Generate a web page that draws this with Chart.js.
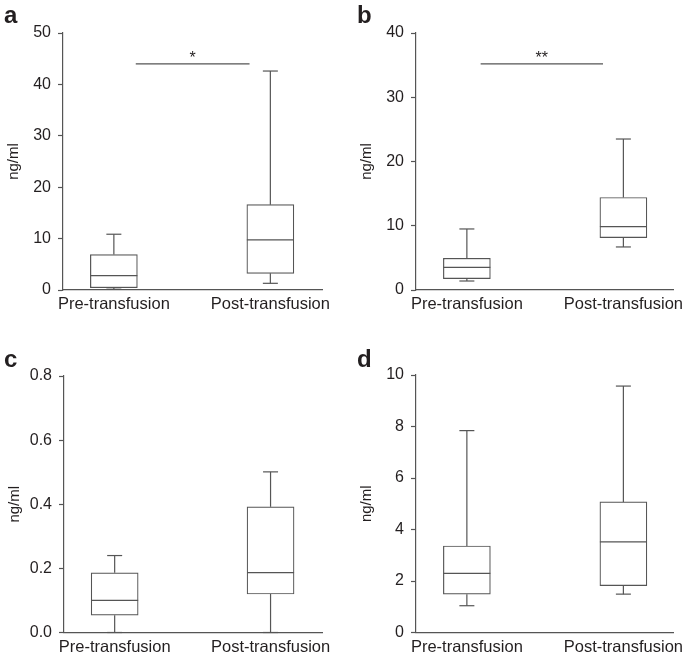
<!DOCTYPE html>
<html>
<head>
<meta charset="utf-8">
<script src="https://cdn.jsdelivr.net/npm/chart.js@4.4.1/dist/chart.umd.min.js"></script>
<style>
  body { margin: 0; background: #fff; }
  #wrap { position: relative; width: 685px; height: 658px; }
  canvas { position: absolute; }
  .tag { position: absolute; font: bold 24px 'Liberation Sans', Arial, sans-serif; color: #231f20; line-height: 1; }
</style>
</head>
<body>
<div id="wrap">
  <canvas id="chartA" width="343" height="330" style="left:0;top:0"></canvas>
  <canvas id="chartB" width="342" height="330" style="left:343px;top:0"></canvas>
  <canvas id="chartC" width="343" height="328" style="left:0;top:330px"></canvas>
  <canvas id="chartD" width="342" height="328" style="left:343px;top:330px"></canvas>
  <div class="tag" style="left:4px;top:3px">a</div>
  <div class="tag" style="left:357px;top:3px">b</div>
  <div class="tag" style="left:4px;top:347px">c</div>
  <div class="tag" style="left:357px;top:347px">d</div>
</div>
<script>
const groups = ['Pre-transfusion', 'Post-transfusion'];
const groupPos = [1, 2];

// panel a
const aMin = [0.15, 1.3];
const aQ1 = [0.45, 3.25];
const aMed = [2.8, 9.75];
const aQ3 = [6.9, 16.6];
const aMax = [10.85, 42.6];
const aTicks = [0, 10, 20, 30, 40, 50];
const aSig = [1.14, 1.867, 44];

// panel b
const bMin = [1.4, 6.7];
const bQ1 = [1.77, 8.16];
const bMed = [3.53, 9.87];
const bQ3 = [4.94, 14.4];
const bMax = [9.5, 23.5];
const bTicks = [0, 10, 20, 30, 40];
const bSig = [1.088, 1.87, 35.2];

// panel c
const cMin = [0, 0];
const cQ1 = [0.054, 0.12];
const cMed = [0.1, 0.187];
const cQ3 = [0.186, 0.392];
const cMax = [0.24, 0.501];
const cTicks = [0, 0.2, 0.4, 0.6, 0.8];

// panel d
const dMin = [1.04, 1.49];
const dQ1 = [1.49, 1.82];
const dMed = [2.3, 3.52];
const dQ3 = [3.36, 5.07];
const dMax = [7.84, 9.57];
const dTicks = [0, 2, 4, 6, 8, 10];

const lineColor = '#555';
const textColor = '#231f20';
Chart.defaults.font.family = "'Liberation Sans', Arial, Helvetica, sans-serif";
Chart.defaults.color = textColor;

function boxExtras(s) {
    return {
        id: 'boxExtras',
        afterDatasetsDraw(chart) {
            const ctx = chart.ctx;
            const x = chart.scales.x, y = chart.scales.y;
            const meta = chart.getDatasetMeta(0);
            const seg = (x1, y1, x2, y2) => {
                ctx.beginPath();
                ctx.moveTo(x1, y1);
                ctx.lineTo(x2, y2);
                ctx.stroke();
            };
            ctx.save();
            ctx.strokeStyle = lineColor;
            ctx.lineWidth = 1.2;
            groupPos.forEach((pos, i) => {
                const cx = x.getPixelForValue(pos);
                const half = meta.data[i].width / 2;
                const cap = 7.5;
                const yMax = y.getPixelForValue(s.max[i]);
                const yQ3 = y.getPixelForValue(s.q3[i]);
                const yQ1 = y.getPixelForValue(s.q1[i]);
                const yMin = y.getPixelForValue(s.min[i]);
                const yMed = y.getPixelForValue(s.med[i]);
                seg(cx, yQ3, cx, yMax);
                seg(cx - cap, yMax, cx + cap, yMax);
                seg(cx, yQ1, cx, yMin);
                seg(cx - cap, yMin, cx + cap, yMin);
                seg(cx - half, yMed, cx + half, yMed);
            });
            if (s.sig) {
                const x1 = x.getPixelForValue(s.sig[0]);
                const x2 = x.getPixelForValue(s.sig[1]);
                const ys = y.getPixelForValue(s.sig[2]);
                seg(x1, ys, x2, ys);
                ctx.fillStyle = textColor;
                ctx.font = "16px 'Liberation Sans', Arial, sans-serif";
                ctx.textAlign = 'center';
                ctx.textBaseline = 'alphabetic';
                ctx.fillText(s.sigLabel, (x1 + x2) / 2, ys - 1);
            }
            ctx.restore();
        }
    };
}

function makePanel(id, s, lay) {
    return new Chart(document.getElementById(id), {
        type: 'bar',
        data: {
            datasets: [{
                data: groupPos.map((p, i) => ({ x: p, y: [s.q1[i], s.q3[i]] })),
                backgroundColor: '#fff',
                borderColor: lineColor,
                borderWidth: 1.2,
                borderSkipped: false,
                barThickness: 47
            }]
        },
        options: {
            responsive: false,
            animation: false,
            events: [],
            layout: { padding: { left: lay.left, top: lay.top, right: lay.right, bottom: 0 } },
            plugins: { legend: { display: false }, tooltip: { enabled: false } },
            scales: {
                x: {
                    type: 'linear',
                    min: lay.xmin,
                    max: lay.xmax,
                    offset: false,
                    afterBuildTicks: sc => { sc.ticks = groupPos.map(v => ({ value: v })); },
                    afterFit: sc => { sc.height = lay.xh; sc.paddingLeft = 0; sc.paddingRight = 0; },
                    ticks: { callback: (v, i) => groups[i], padding: 5, maxRotation: 0, autoSkip: false, font: { size: 16.5 } },
                    grid: { display: false, drawTicks: false, offset: false },
                    border: { display: true, color: lineColor, width: 1.2 }
                },
                y: {
                    min: s.ticks[0],
                    max: s.ticks[s.ticks.length - 1],
                    afterBuildTicks: sc => { sc.ticks = s.ticks.map(v => ({ value: v })); },
                    afterFit: sc => { sc.width = 63; sc.paddingTop = 0; sc.paddingBottom = 0; },
                    ticks: { callback: v => s.fmt(v), padding: 7, font: { size: 16 } },
                    grid: { display: true, drawOnChartArea: false, drawTicks: true, tickLength: 5, tickColor: lineColor, tickWidth: 1.2 },
                    border: { display: true, color: lineColor, width: 1.2 },
                    title: { display: true, text: 'ng/ml', font: { size: 15 }, padding: { top: 5, bottom: 0 } }
                }
            }
        },
        plugins: [boxExtras(s)]
    });
}

const intFmt = v => String(v);

makePanel('chartA',
    { min: aMin, q1: aQ1, med: aMed, q3: aQ3, max: aMax, ticks: aTicks, sig: aSig, sigLabel: '*', fmt: intFmt },
    { left: 0, top: 33, right: 21, xh: 40, xmin: 0.675, xmax: 2.33 });
makePanel('chartB',
    { min: bMin, q1: bQ1, med: bMed, q3: bQ3, max: bMax, ticks: bTicks, sig: bSig, sigLabel: '**', fmt: intFmt },
    { left: 10, top: 33, right: 12, xh: 40, xmin: 0.675, xmax: 2.317 });
makePanel('chartC',
    { min: cMin, q1: cQ1, med: cMed, q3: cQ3, max: cMax, ticks: cTicks, fmt: v => v.toFixed(1) },
    { left: 1, top: 46, right: 21, xh: 25.5, xmin: 0.675, xmax: 2.33 });
makePanel('chartD',
    { min: dMin, q1: dQ1, med: dMed, q3: dQ3, max: dMax, ticks: dTicks, fmt: intFmt },
    { left: 10, top: 45, right: 12, xh: 25.5, xmin: 0.675, xmax: 2.317 });
</script>
</body>
</html>
